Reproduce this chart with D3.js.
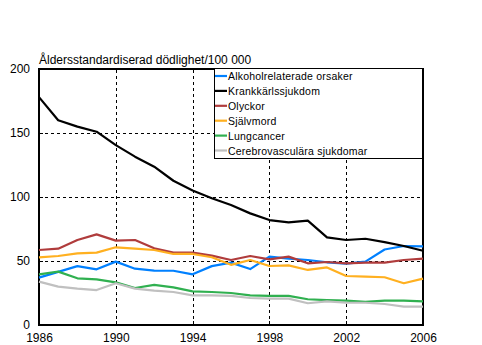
<!DOCTYPE html>
<html>
<head>
<meta charset="utf-8">
<script src="https://cdn.jsdelivr.net/npm/d3@7/dist/d3.min.js"></script>
<style>
  html, body { margin: 0; padding: 0; background: #fff; }
  svg { display: block; font-family: "Liberation Sans", Arial, sans-serif; }
</style>
</head>
<body>
<svg id="chart" width="482" height="345"></svg>
<script>
// Age-standardised mortality per 100 000, 1986–2006
const years = d3.range(1986, 2007);
const seriesNames = [
  "Alkoholrelaterade orsaker",
  "Krankkärlssjukdom",
  "Olyckor",
  "Självmord",
  "Lungcancer",
  "Cerebrovasculära sjukdomar"
];
const seriesColors = ["#0080ff", "#000000", "#b03c3c", "#ffb020", "#30b050", "#c0c0c0"];

const alkohol   = [37, 41.5, 46, 43.5, 49.5, 44, 42.5, 42.4, 39.6, 46, 48.7, 43.7, 53.4, 51.8, 50.8, 49, 47.9, 49.5, 59, 61.7, 61.5];
const krankkarl = [178, 160, 155, 151, 140.5, 131.5, 123.7, 112.7, 105, 99, 93.7, 87.2, 82, 80.2, 81.5, 68.5, 66.4, 67.4, 64.8, 61.7, 58];
const olyckor   = [58.6, 59.6, 66.4, 70.8, 65.9, 66.4, 59.9, 56.5, 56.5, 54.2, 50.8, 53.9, 51.3, 53.4, 48.2, 49.2, 48.2, 48.7, 48.7, 50.8, 51.8];
const sjalvmord = [52.9, 53.9, 56, 56.5, 60.7, 59.6, 58.6, 55.5, 55.5, 52.9, 47, 50.8, 46.1, 46.6, 43, 45, 38.3, 37.8, 37.3, 32.6, 36.2];
const lungcancer= [39.6, 41.7, 36.5, 35.7, 33.3, 28.9, 31.3, 29.4, 26.3, 25.8, 25, 23.2, 22.7, 22.7, 20.1, 19.5, 19, 18, 19, 19, 18.5];
const cerebro   = [33.9, 30, 28.4, 27.3, 32.6, 28.4, 26.8, 25.8, 23.2, 23.2, 22.7, 21.1, 20.6, 20.6, 17, 18.5, 17.4, 17.4, 16.4, 14.3, 14.3];
const seriesValues = [alkohol, krankkarl, olyckor, sjalvmord, lungcancer, cerebro];

const yTicks = [0, 50, 100, 150, 200];
const xTicks = [1986, 1990, 1994, 1998, 2002, 2006];
const yTitle = "Åldersstandardiserad dödlighet/100 000";

const svg = d3.select("#chart");
const margin = { left: 39, right: 59, top: 69, bottom: 20 };
const W = 482, H = 345;
const x = d3.scaleLinear().domain([1986, 2006]).range([margin.left, W - margin.right]);
const y = d3.scaleLinear().domain([0, 200]).range([H - margin.bottom, margin.top]);

// dashed grid at interior ticks
const grid = svg.append("g");
grid.selectAll("line.h").data(yTicks.filter(v => v > 0 && v < 200)).join("line")
  .attr("x1", x(1986)).attr("x2", x(2006))
  .attr("y1", d => Math.round(y(d)) + 0.5).attr("y2", d => Math.round(y(d)) + 0.5)
  .attr("stroke", "#000").attr("stroke-dasharray", "3,3").attr("shape-rendering", "crispEdges");
grid.selectAll("line.v").data(xTicks.filter(v => v > 1986 && v < 2006)).join("line")
  .attr("y1", y(0)).attr("y2", y(200))
  .attr("x1", d => Math.round(x(d)) + 0.5).attr("x2", d => Math.round(x(d)) + 0.5)
  .attr("stroke", "#000").attr("stroke-dasharray", "3,3").attr("shape-rendering", "crispEdges");

// axes
const yAxis = d3.axisLeft(y).tickValues(yTicks).tickSize(-4).tickPadding(9);
const xAxis = d3.axisBottom(x).tickValues(xTicks).tickFormat(d3.format("d")).tickSize(-4).tickPadding(8.5);
const gy = svg.append("g").attr("transform", `translate(${x(1986)},0)`).call(yAxis);
const gx = svg.append("g").attr("transform", `translate(0,${y(0)})`).call(xAxis);
[gy, gx].forEach(g => {
  g.select(".domain").remove();
  g.selectAll("text").attr("font-size", 12).attr("fill", "#000")
    .attr("font-family", "'Liberation Sans', Arial, sans-serif");
  g.selectAll("line").attr("stroke", "#000").attr("shape-rendering", "crispEdges");
});

// plot frame
svg.append("rect")
  .attr("x", x(1986)).attr("y", y(200))
  .attr("width", x(2006) - x(1986)).attr("height", y(0) - y(200))
  .attr("fill", "none").attr("stroke", "#000").attr("stroke-width", 1.3)
  .attr("shape-rendering", "crispEdges");

// series lines
const line = d3.line().x((d, i) => x(years[i])).y(d => y(d));
svg.append("g").selectAll("path").data(seriesValues).join("path")
  .attr("d", line)
  .attr("fill", "none")
  .attr("stroke", (d, i) => seriesColors[i])
  .attr("stroke-width", 2.2)
  .attr("stroke-linejoin", "round");

// title
svg.append("text")
  .attr("x", x(1986)).attr("y", 64)
  .attr("font-size", 12).attr("fill", "#000")
  .text(yTitle);

// legend
const lg = svg.append("g").attr("transform", "translate(214,68)");
lg.append("rect").attr("x", 0.5).attr("y", 0.5).attr("width", 208).attr("height", 90)
  .attr("fill", "#fff").attr("stroke", "#000").attr("shape-rendering", "crispEdges");
const items = lg.selectAll("g.item").data(seriesNames).join("g")
  .attr("transform", (d, i) => `translate(0,${8 + i * 14.9})`);
items.append("line").attr("x1", 1).attr("x2", 13).attr("y1", 0).attr("y2", 0)
  .attr("stroke", (d, i) => seriesColors[i]).attr("stroke-width", 2.2);
items.append("text").attr("x", 14).attr("y", 4)
  .attr("font-size", 10.5).attr("letter-spacing", 0.2).attr("fill", "#000")
  .text(d => d);
</script>
</body>
</html>
